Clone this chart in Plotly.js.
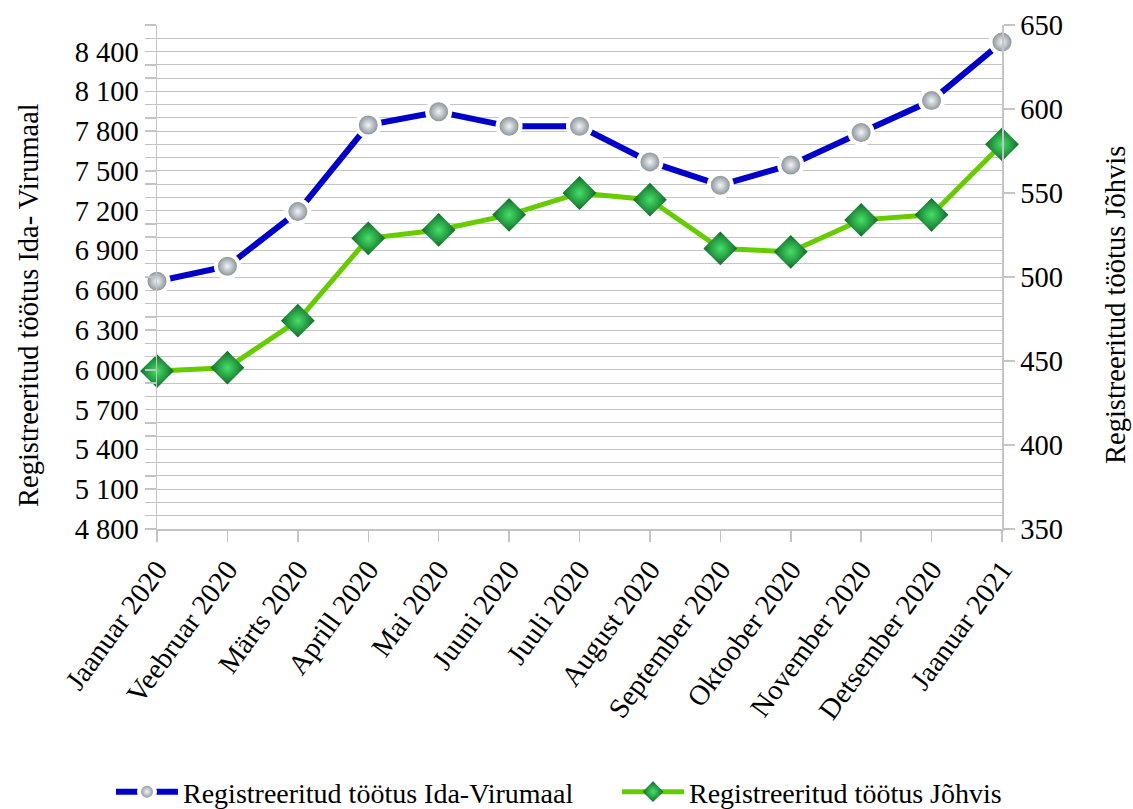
<!DOCTYPE html>
<html>
<head>
<meta charset="utf-8">
<script src="https://cdn.plot.ly/plotly-3.0.1.min.js"></script>
<style>html,body{margin:0;padding:0;background:#fff;}#chart{width:1133px;height:809px;}</style>
</head>
<body>
<div id="chart"></div>
<script>
const months = ["Jaanuar 2020","Veebruar 2020","Märts 2020","Aprill 2020","Mai 2020","Juuni 2020","Juuli 2020","August 2020","September 2020","Oktoober 2020","November 2020","Detsember 2020","Jaanuar 2021"];
const idaVirumaa = [6668, 6781, 7193, 7846, 7946, 7836, 7836, 7568, 7392, 7545, 7790, 8030, 8471];
const johvi = [444, 446, 474, 523, 528, 537, 550, 546, 517, 515, 534, 537, 579];
const nameIda = "Registreeritud töötus Ida-Virumaal";
const nameJohvi = "Registreeritud töötus Jõhvis";
const leftTitle = "Registreeritud töötus Ida- Virumaal";
const rightTitle = "Registreeritud töötus Jõhvis";

const FONT = "Liberation Serif";
const FS = 28.5;
const LFS = 28;
const GRID = "#c4c4c4";

const traces = [
  {
    x: months, y: idaVirumaa, name: nameIda, type: "scatter", mode: "lines+markers",
    line: {color: "#0000c8", width: 6},
    marker: {symbol: "circle", size: 23, color: "#77838a",
             gradient: {type: "radial", color: "#f2f5f6"},
             line: {color: "#ffffff", width: 4}},
    yaxis: "y", cliponaxis: false, legend: "legend"
  },
  {
    x: months, y: johvi, name: nameJohvi, type: "scatter", mode: "lines+markers",
    line: {color: "#66cc00", width: 5},
    marker: {symbol: "diamond", size: 26, color: "#0f6a28",
             gradient: {type: "radial", color: "#46e068"},
             line: {width: 0}},
    yaxis: "y2", cliponaxis: false, legend: "legend2"
  }
];

const legendY = -(792 - 529) / 504;

const layout = {
  width: 1133, height: 809,
  margin: {l: 157, r: 131, t: 25, b: 280, autoexpand: false},
  paper_bgcolor: "#ffffff", plot_bgcolor: "#ffffff",
  font: {family: FONT, size: FS, color: "#000"},
  showlegend: true,
  legend: {orientation: "h", x: (111 - 157) / 845, xanchor: "left", y: legendY, yanchor: "middle",
           font: {family: FONT, size: LFS, color: "#000"}, itemwidth: 62},
  legend2: {orientation: "h", x: (617 - 157) / 845, xanchor: "left", y: legendY, yanchor: "middle",
           font: {family: FONT, size: LFS, color: "#000"}, itemwidth: 62},
  xaxis: {
    type: "category", range: [0, 12], tickangle: -54,
    showgrid: false, showline: true, linecolor: GRID, linewidth: 1.5,
    ticks: "outside", ticklen: 11, tickcolor: GRID, tickwidth: 1.5,
    tickfont: {family: FONT, size: FS, color: "#000"}, zeroline: false, automargin: false
  },
  yaxis: {
    range: [4800, 8600], tick0: 4800, dtick: 300,
    tickformat: ",d",
    showgrid: true, gridcolor: GRID, gridwidth: 1,
    showline: true, linecolor: GRID, linewidth: 1.5,
    ticks: "outside", ticklen: 11, tickcolor: GRID, tickwidth: 1.5,
    minor: {dtick: 100, tick0: 4800, showgrid: true, gridcolor: GRID, gridwidth: 1,
            ticks: "outside", ticklen: 11, tickcolor: GRID, tickwidth: 1.5},
    tickfont: {family: FONT, size: FS, color: "#000"}, zeroline: false, automargin: false
  },
  yaxis2: {
    overlaying: "y", side: "right", range: [350, 650], dtick: 50, tick0: 350,
    showgrid: false, showline: true, linecolor: GRID, linewidth: 1.5,
    ticks: "outside", ticklen: 11, tickcolor: GRID, tickwidth: 1.5,
    tickfont: {family: FONT, size: FS, color: "#000"}, zeroline: false, automargin: false
  },
  separators: ". ",
  annotations: [
    {text: leftTitle, xref: "paper", yref: "paper", x: (28 - 157) / 845, y: (529 - 305) / 504,
     xanchor: "center", yanchor: "middle", textangle: -90, showarrow: false,
     font: {family: FONT, size: FS, color: "#000"}},
    {text: rightTitle, xref: "paper", yref: "paper", x: (1115 - 157) / 845, y: (529 - 305) / 504,
     xanchor: "center", yanchor: "middle", textangle: -90, showarrow: false,
     font: {family: FONT, size: FS, color: "#000"}}
  ]
};

Plotly.newPlot("chart", traces, layout, {displayModeBar: false, staticPlot: true});
</script>
</body>
</html>
